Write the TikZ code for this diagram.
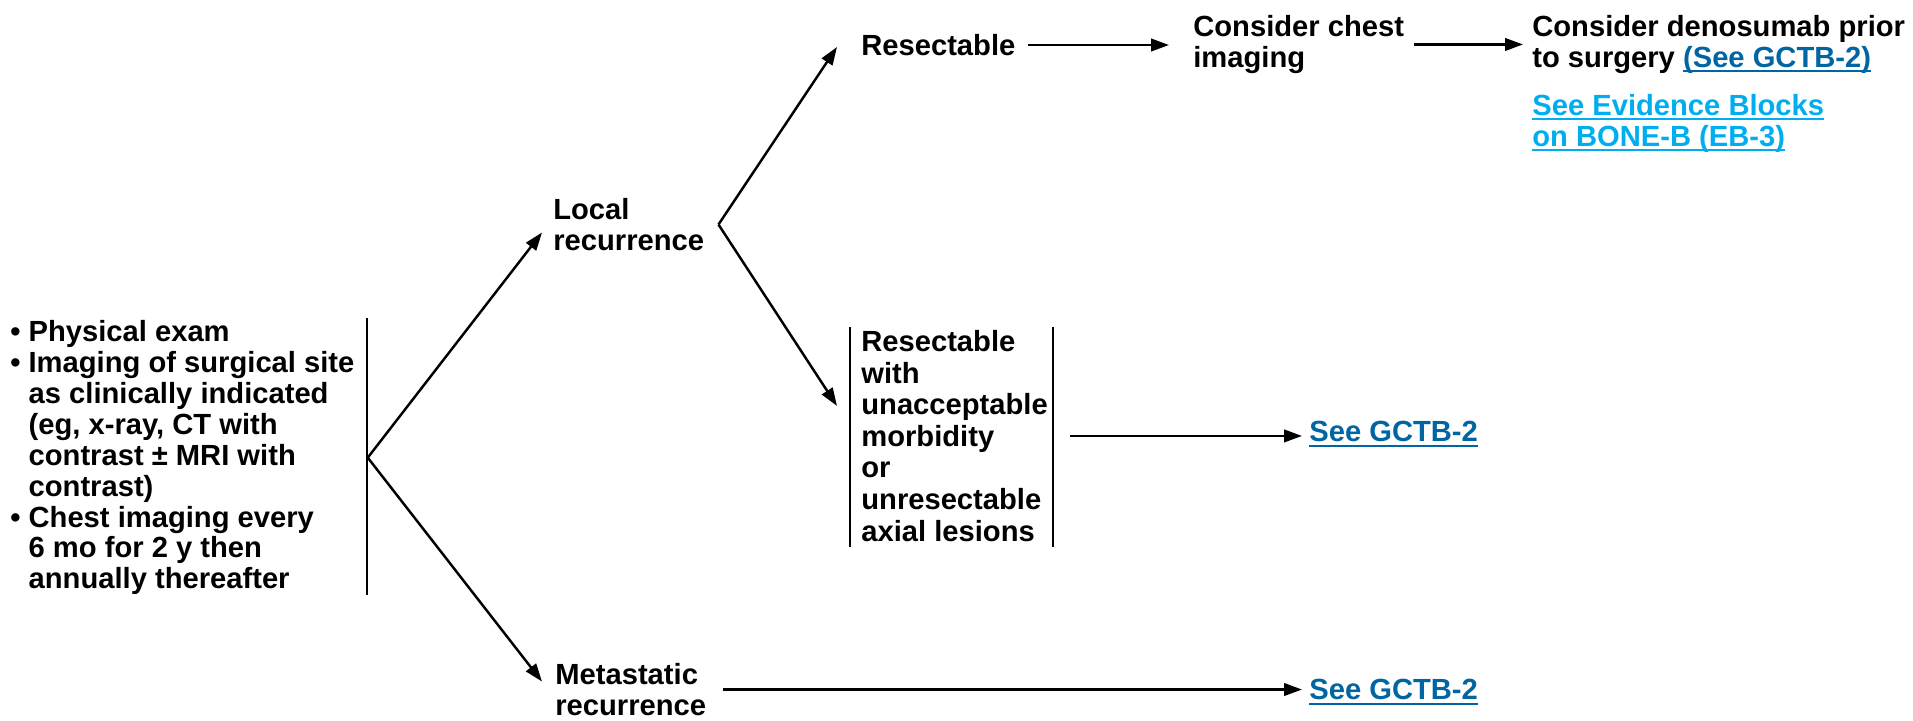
\documentclass[tikz,border=0pt]{standalone}
\usepackage{fontspec}
\setmainfont{Liberation Sans}
\usetikzlibrary{arrows.meta, positioning}
\definecolor{linkblue}{RGB}{0,101,163}
\definecolor{evblue}{RGB}{0,174,239}
\newcommand{\bulletind}{\hphantom{\textbullet\ }}
\newcommand{\ulink}[1]{{\setbox0\hbox{#1}\rlap{\rule[-2.8pt]{\wd0}{1.1pt}}\box0}}
\newcommand{\gctb}[1]{\textcolor{linkblue}{\ulink{#1}}}
\tikzset{txt/.style={inner sep=0pt, align=left, font=\fontsize{16.6}{17.6}\selectfont\bfseries},
         arr/.style={-{Triangle[length=3.6mm,width=2.5mm]}, line width=1.4pt},
         bar/.style={line width=1.4pt}}

\begin{document}
\begin{tikzpicture}[x=0.02cm, y=-0.02cm]
        \useasboundingbox (0,0) rectangle (1913,720);

        \node[txt, anchor=north west](followup)at(10,320){\textbullet\ Physical exam\\
                \textbullet\ Imaging of surgical site\\
                \bulletind as clinically indicated\\
                \bulletind (eg, x-ray, CT with\\
                \bulletind contrast ± MRI with\\
                \bulletind contrast)\\
                \textbullet\ Chest imaging every\\
                \bulletind 6 mo for 2 y then\\
                \bulletind annually thereafter};
        \draw[bar]([xshift=2.4mm,yshift=0.04cm]followup.north east)--([xshift=2.4mm]followup.south east);
        \coordinate (v0) at ([xshift=2.6mm]followup.east);

        \node[txt, anchor=north west](local)at(553,198){Local\\recurrence};
        \node[txt, anchor=north west](meta)at(555,663){Metastatic\\recurrence};

        \draw[arr](v0)--([xshift=-2.2mm,yshift=-1.6mm]local.west);
        \draw[arr](v0)--([xshift=-2.6mm,yshift=1.6mm]meta.west);

        \coordinate (v1) at ([xshift=2.8mm]local.east);
        \node[txt, anchor=west](resect)at(861,45){Resectable};
        \node[txt, anchor=north west, font=\fontsize{16.6}{18}\selectfont\bfseries](morbid)at(861,330){Resectable\\with\\unacceptable\\morbidity\\or\\unresectable\\axial lesions};
        \draw[bar]([xshift=-2.2mm,yshift=0.06cm]morbid.north west)--([xshift=-2.2mm,yshift=-0.1cm]morbid.south west);
        \draw[bar]([xshift=1mm,yshift=0.06cm]morbid.north east)--([xshift=1mm,yshift=-0.1cm]morbid.south east);

        \draw[arr](v1)--([xshift=-4.8mm,yshift=-0.4mm]resect.west);
        \draw[arr](v1)--([xshift=-4.8mm,yshift=6mm]morbid.west);

        \node[txt, anchor=north west](chest)at(1193,15){Consider chest\\imaging};
        \node[txt, anchor=north west](denos)at(1532,15){Consider denosumab prior\\to surgery \gctb{(See GCTB-2)}};
        \node[txt, anchor=north west, text=evblue](evid)at(1532,94){\ulink{See Evidence Blocks}\\\ulink{on BONE-B (EB-3)}};

        \draw[arr]([xshift=2.5mm]resect.east)--([xshift=-4.8mm]resect.east -| chest.west);
        \draw[arr]([xshift=2mm]chest.east)--([xshift=-1.8mm]chest.east -| denos.west);

        \node[txt, anchor=west](gctb1)at(1309,434){\gctb{See GCTB-2}};
        \node[txt, anchor=west](gctb2)at(1309,692){\gctb{See GCTB-2}};

        \draw[arr]([xshift=4.4mm]morbid.east)--([xshift=-1.4mm]morbid.east -| gctb1.west);
        \draw[arr]([xshift=3.4mm]meta.east)--([xshift=-1.4mm]meta.east -| gctb2.west);
    \end{tikzpicture}
\end{document}
